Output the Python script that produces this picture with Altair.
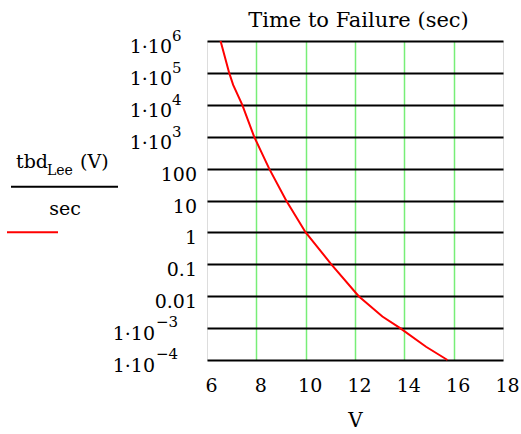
import altair as alt
import pandas as pd

# ---- data ----
V = [6.55, 6.90, 7.06, 7.43, 7.91, 8.52, 9.21, 10.0, 11.04, 12.15, 13.11, 13.83, 14.88, 15.75]
T = [1e6, 1e5, 4.2e4, 1e4, 1e3, 100, 10, 1, 0.1, 0.01, 2.3e-3, 1e-3, 2.6e-4, 1e-4]

x_ticks = [6, 8, 10, 12, 14, 16, 18]
y_ticks = [1e6, 1e5, 1e4, 1e3, 100, 10, 1, 0.1, 0.01, 1e-3, 1e-4]
y_main = ["1·10", "1·10", "1·10", "1·10", "100", "10", "1", "0.1", "0.01", "1·10", "1·10"]
y_exp = ["6", "5", "4", "3", "", "", "", "", "", "−3", "−4"]

title_text = "Time to Failure (sec)"
x_title = "V"
ylab_func = "tbd"
ylab_sub = "Lee"
ylab_arg = "(V)"
ylab_unit = "sec"

FONT = "DejaVu Serif"
W, H = 296, 319
L, TOP = 207, 41

curve_df = pd.DataFrame({"V": V, "t": T})
kinds = ["plain" if e == "" else ("neg" if e.startswith("−") else "pos") for e in y_exp]
lab_df = pd.DataFrame({"t": y_ticks, "main": y_main, "exp": y_exp, "kind": kinds})
one = pd.DataFrame({"a": [0]})

yscale = alt.Scale(type="log", domain=[1e-4, 1e6], nice=False)
yaxis = alt.Axis(values=y_ticks, labels=False, ticks=False, domain=False, title=None,
                 grid=True, gridColor="black", gridWidth=2)
Y = alt.Y("t:Q", scale=yscale, axis=yaxis)

xaxis = alt.Axis(values=x_ticks, title=x_title, ticks=False, domain=False, grid=True,
                 gridColor="#77ee77", gridWidth=1.5,
                 gridOpacity={"condition": {"test": "datum.value == 6 || datum.value == 18", "value": 0}, "value": 1},
                 labelFont=FONT, labelFontSize=19, labelColor="black", labelPadding=16,
                 labelOffset=4, labelFlush=False,
                 titleFont=FONT, titleFontSize=20, titleFontWeight="normal", titleColor="black",
                 titlePadding=15)

curve = alt.Chart(curve_df).mark_line(color="red", strokeWidth=2).encode(
    x=alt.X("V:Q", scale=alt.Scale(domain=[6, 18], nice=False), axis=xaxis),
    y=Y,
)

def lab_layer(kind, field, x, align, size, dy):
    return alt.Chart(lab_df).transform_filter(f"datum.kind == '{kind}'").mark_text(
        font=FONT, fontSize=size, align=align, baseline="alphabetic", dy=dy, color="black"
    ).encode(x=alt.value(x), y=Y, text=f"{field}:N")

labels = [
    lab_layer("plain", "main", -10, "right", 19, 12),
    lab_layer("pos", "main", -35, "right", 19, 12),
    lab_layer("pos", "exp", -35, "left", 15, 0),
    lab_layer("neg", "main", -52, "right", 19, 12),
    lab_layer("neg", "exp", -51, "left", 15, -1),
]

def fixed_text(txt, x, y, size, align="left"):
    return alt.Chart(one).mark_text(font=FONT, fontSize=size, align=align,
                                    baseline="alphabetic", color="black").encode(
        x=alt.value(x), y=alt.value(y), text=alt.value(txt))

legend = [
    fixed_text(title_text, 358.5 - L, 27 - TOP, 21, "center"),
    fixed_text(ylab_func, 16 - L, 168 - TOP, 19),
    fixed_text(ylab_sub, 47 - L, 175 - TOP, 14),
    fixed_text(ylab_arg, 80 - L, 168 - TOP, 19),
    fixed_text(ylab_unit, 65 - L, 215 - TOP, 19, "center"),
    alt.Chart(one).mark_rule(color="black", strokeWidth=2).encode(
        x=alt.value(11 - L), x2=alt.value(118 - L), y=alt.value(186.7 - TOP)),
    alt.Chart(one).mark_rule(color="red", strokeWidth=2).encode(
        x=alt.value(7 - L), x2=alt.value(58 - L), y=alt.value(232.3 - TOP)),
]

chart = alt.layer(curve, *labels, *legend).properties(
    width=W, height=H,
    padding={"left": L, "top": TOP, "right": 521 - L - W, "bottom": 434 - TOP - H},
    autosize=alt.AutoSizeParams(type="none"),
).configure_view(stroke="black", strokeWidth=2).configure(background="white")

chart.save("out.html", embed_options={"renderer": "svg", "actions": False})
